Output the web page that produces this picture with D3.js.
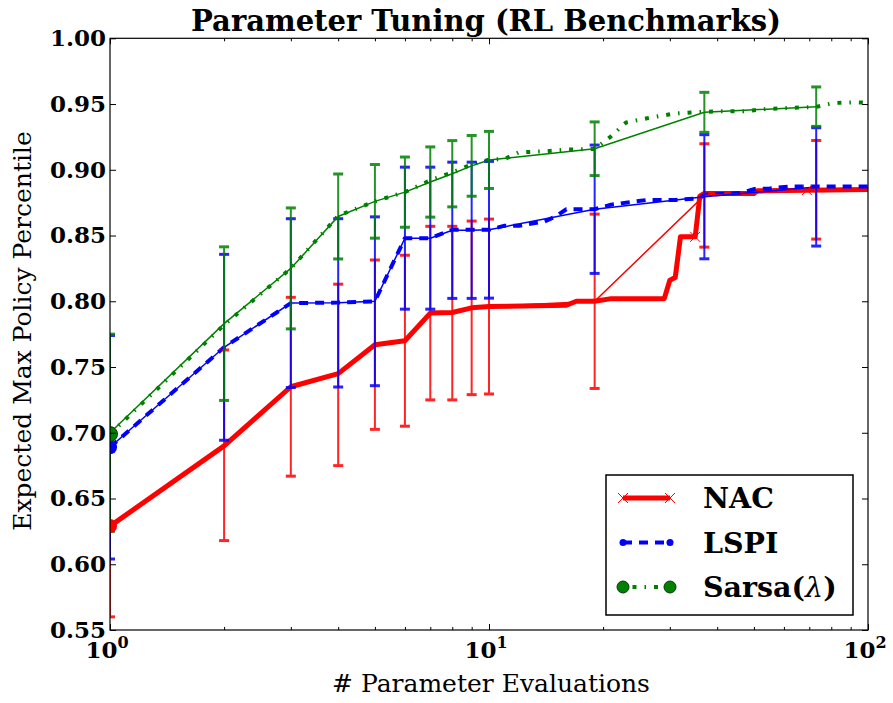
<!DOCTYPE html>
<html>
<head>
<meta charset="utf-8">
<script src="https://cdn.jsdelivr.net/npm/d3@7"></script>
<style>
  body { margin: 0; background: #fff; }
  text { font-family: "DejaVu Serif", serif; fill: #000; }
</style>
</head>
<body>
<svg id="chart" width="893" height="703"></svg>
<script>
// evaluation counts where error bars were measured
let evalX = [1, 2, 3, 4, 5, 6, 7, 8, 9, 10, 19, 37, 73]

let nacMean = [0.629, 0.6905, 0.735, 0.744, 0.767, 0.770, 0.791, 0.791, 0.795, 0.796, 0.800, 0.8805, 0.8848]
let nacErr = [0.069, 0.0725, 0.068, 0.069, 0.0644, 0.065, 0.066, 0.066, 0.066, 0.0665, 0.0663, 0.0393, 0.0375]
let lspiMean = [0.689, 0.765, 0.7986, 0.7988, 0.800, 0.848, 0.848, 0.854, 0.854, 0.8544, 0.870, 0.8795, 0.887]
let lspiErr = [0.085, 0.0707, 0.0642, 0.064, 0.0642, 0.054, 0.054, 0.0518, 0.0518, 0.052, 0.0488, 0.0472, 0.045]
let sarsaMean = [0.700, 0.783, 0.825, 0.8645, 0.876, 0.883, 0.8907, 0.897, 0.903, 0.9075, 0.916, 0.9437, 0.948]
let sarsaErr = [0.075, 0.0584, 0.046, 0.0323, 0.028, 0.0267, 0.0267, 0.0252, 0.0231, 0.0217, 0.0204, 0.0152, 0.015]

// expected max curves (read at their break points)
let nacCurveX = [1, 2, 3, 4, 5, 6, 7, 8, 9, 10, 16, 17, 19, 21, 29, 30, 31, 32, 35, 36, 37, 50, 51, 69, 100]
let nacCurveY = [0.629, 0.690, 0.735, 0.745, 0.767, 0.770, 0.791, 0.7915, 0.795, 0.796, 0.797, 0.800, 0.800, 0.802, 0.802,
  0.816, 0.818, 0.849, 0.849, 0.880, 0.882, 0.882, 0.884, 0.8845, 0.885]
let lspiCurveX = [1, 2, 3, 4, 5, 6, 7, 8, 9, 10, 11, 12, 14, 15, 16, 19, 21, 26, 31, 36, 37, 41, 46, 50, 55, 62, 75, 100]
let lspiCurveY = [0.689, 0.765, 0.7986, 0.799, 0.800, 0.848, 0.848, 0.8544, 0.8544, 0.8544, 0.8575, 0.8575, 0.8607, 0.8645,
  0.870, 0.870, 0.8735, 0.877, 0.877, 0.8784, 0.881, 0.8815, 0.8823, 0.8853, 0.8858, 0.8873, 0.8873, 0.8873]
let sarsaCurveX = [1, 2, 3, 4, 5, 6, 7, 8, 9, 10, 11, 12, 14, 16, 19, 21, 23, 27, 31, 35, 37, 41, 47, 54, 62, 73, 81, 93, 100]
let sarsaCurveY = [0.699, 0.782, 0.825, 0.865, 0.876, 0.883, 0.892, 0.898, 0.904, 0.9077, 0.9082, 0.9133, 0.914, 0.9153,
  0.9158, 0.9255, 0.936, 0.940, 0.9428, 0.9438, 0.944, 0.9445, 0.9445, 0.9463, 0.947, 0.9478, 0.9508, 0.9513, 0.951]

let nacMarkX = [35, 69]
let yTicks = [0.55, 0.60, 0.65, 0.70, 0.75, 0.80, 0.85, 0.90, 0.95, 1.00]
let xMajor = [1, 10, 100]
let xMinor = [2, 3, 4, 5, 6, 7, 8, 9, 20, 30, 40, 50, 60, 70, 80, 90]
let legendNames = ["NAC", "LSPI", "Sarsa"]

let plot = {left: 110, right: 868, top: 38.3, bottom: 630}
let colors = {nac: "#ff0000", lspi: "#0000ff", sarsa: "#008000"}

let svg = d3.select("#chart")

let x = d3.scaleLog().domain([1, 100]).range([plot.left, plot.right])
let y = d3.scaleLinear().domain([0.55, 1.0]).range([plot.bottom, plot.top])

svg.append("defs").append("clipPath").attr("id", "clip")
  .append("rect")
  .attr("x", plot.left).attr("y", plot.top)
  .attr("width", plot.right - plot.left).attr("height", plot.bottom - plot.top)

let g = svg.append("g").attr("clip-path", "url(#clip)")
let line = d3.line().x(d => x(d[0])).y(d => y(d[1]))

function draw_curve(xs, ys, color, width, dash) {
  g.append("path")
    .datum(d3.zip(xs, ys))
    .attr("d", line)
    .attr("fill", "none")
    .attr("stroke", color)
    .attr("stroke-width", width)
    .attr("stroke-dasharray", dash)
    .attr("stroke-linejoin", "round")
}

function draw_errorbars(means, errs, color) {
  let data = d3.zip(evalX, means, errs)
  g.append("path")
    .datum(data)
    .attr("d", line)
    .attr("fill", "none")
    .attr("stroke", color)
    .attr("stroke-width", 1.5)

  let bars = g.append("g").attr("opacity", 0.85)
  bars.selectAll("line.bar")
    .data(data).enter()
    .append("line")
    .attr("x1", d => x(d[0])).attr("x2", d => x(d[0]))
    .attr("y1", d => y(d[1] - d[2])).attr("y2", d => y(d[1] + d[2]))
    .attr("stroke", color).attr("stroke-width", 2)
  bars.selectAll("line.cap")
    .data(data.flatMap(d => [[d[0], d[1] - d[2]], [d[0], d[1] + d[2]]])).enter()
    .append("line")
    .attr("x1", d => x(d[0]) - 5).attr("x2", d => x(d[0]) + 5)
    .attr("y1", d => y(d[1])).attr("y2", d => y(d[1]))
    .attr("stroke", color).attr("stroke-width", 3)
}

draw_curve(nacCurveX, nacCurveY, colors.nac, 5, null)
draw_curve(lspiCurveX, lspiCurveY, colors.lspi, 4, "9,7")
draw_curve(sarsaCurveX, sarsaCurveY, colors.sarsa, 4, "4,8,1.5,8")

draw_errorbars(nacMean, nacErr, colors.nac)
draw_errorbars(lspiMean, lspiErr, colors.lspi)
draw_errorbars(sarsaMean, sarsaErr, colors.sarsa)

// x markers on the NAC curve
function cross(sel, cx, cy, r, color) {
  sel.append("path")
    .attr("d", `M${cx - r},${cy - r}L${cx + r},${cy + r}M${cx - r},${cy + r}L${cx + r},${cy - r}`)
    .attr("stroke", color).attr("stroke-width", 1).attr("fill", "none")
}
nacMarkX.forEach(v => {
  let i = nacCurveX.indexOf(v)
  cross(g, x(v), y(nacCurveY[i]), 5, colors.nac)
})

// first-point markers
g.append("circle").attr("cx", x(nacCurveX[0])).attr("cy", y(nacCurveY[0])).attr("r", 7).attr("fill", colors.nac)
g.append("circle").attr("cx", x(lspiCurveX[0])).attr("cy", y(lspiCurveY[0])).attr("r", 7).attr("fill", colors.lspi)
g.append("circle").attr("cx", x(sarsaCurveX[0])).attr("cy", y(sarsaCurveY[0])).attr("r", 7.5)
  .attr("fill", colors.sarsa).attr("stroke", "#0a3a0a").attr("stroke-width", 1)

// axes, ticks pointing inwards on all four sides
function style_axis(sel) {
  sel.select(".domain").remove()
  sel.selectAll("line").attr("stroke", "#000").attr("stroke-width", 1)
}

svg.append("g")
  .attr("transform", `translate(${plot.left},0)`)
  .call(d3.axisLeft(y).tickValues(yTicks).tickFormat(d3.format(".2f")).tickSizeInner(-6).tickSizeOuter(0).tickPadding(4))
  .call(style_axis)
  .selectAll("text")
  .attr("font-family", "DejaVu Serif").attr("font-weight", "bold").attr("font-size", 23)

svg.append("g")
  .attr("transform", `translate(${plot.right},0)`)
  .call(d3.axisRight(y).tickValues(yTicks).tickFormat("").tickSizeInner(-6).tickSizeOuter(0))
  .call(style_axis)

for (let [pos, make] of [[plot.bottom, d3.axisBottom], [plot.top, d3.axisTop]]) {
  svg.append("g")
    .attr("transform", `translate(0,${pos})`)
    .call(make(x).tickValues(xMajor).tickFormat("").tickSizeInner(-6).tickSizeOuter(0))
    .call(style_axis)
  svg.append("g")
    .attr("transform", `translate(0,${pos})`)
    .call(make(x).tickValues(xMinor).tickFormat("").tickSizeInner(-3).tickSizeOuter(0))
    .call(style_axis)
}

// x tick labels 10^n
let xl = svg.append("g").selectAll("text")
  .data(xMajor).enter()
  .append("text")
  .attr("x", d => x(d) - 3)
  .attr("y", 658)
  .attr("text-anchor", "middle")
  .attr("font-weight", "bold")
  .attr("font-size", 23)
xl.append("tspan").text("10")
xl.append("tspan").attr("dy", -10).attr("font-size", 16).text(d => Math.round(Math.log10(d)))

svg.append("rect")
  .attr("x", plot.left).attr("y", plot.top)
  .attr("width", plot.right - plot.left).attr("height", plot.bottom - plot.top)
  .attr("fill", "none").attr("stroke", "#000").attr("stroke-width", 1.2)

svg.append("text")
  .attr("x", 486).attr("y", 31)
  .attr("text-anchor", "middle")
  .attr("font-weight", "bold").attr("font-size", 29)
  .text("Parameter Tuning (RL Benchmarks)")

svg.append("text")
  .attr("x", 491).attr("y", 692)
  .attr("text-anchor", "middle")
  .attr("font-size", 25)
  .text("# Parameter Evaluations")

svg.append("text")
  .attr("transform", "translate(31,331)rotate(-90)")
  .attr("text-anchor", "middle")
  .attr("font-size", 25)
  .text("Expected Max Policy Percentile")

// legend
let legend = svg.append("g")
legend.append("rect")
  .attr("x", 606).attr("y", 475).attr("width", 247).attr("height", 140)
  .attr("fill", "#fff").attr("stroke", "#000").attr("stroke-width", 1.5)

let rowY = d3.scalePoint().domain(legendNames).range([498, 587])
let x0 = 623, x1 = 670

legend.append("line").attr("x1", x0).attr("x2", x1).attr("y1", rowY("NAC")).attr("y2", rowY("NAC"))
  .attr("stroke", colors.nac).attr("stroke-width", 5)
cross(legend, x0, rowY("NAC"), 5, colors.nac)
cross(legend, x1, rowY("NAC"), 5, colors.nac)

legend.append("line").attr("x1", x0).attr("x2", x1).attr("y1", rowY("LSPI")).attr("y2", rowY("LSPI"))
  .attr("stroke", colors.lspi).attr("stroke-width", 4).attr("stroke-dasharray", "9,7")
for (let cx of [x0, x1]) {
  legend.append("circle").attr("cx", cx).attr("cy", rowY("LSPI")).attr("r", 3.5).attr("fill", colors.lspi)
}

legend.append("line").attr("x1", x0).attr("x2", x1).attr("y1", rowY("Sarsa")).attr("y2", rowY("Sarsa"))
  .attr("stroke", colors.sarsa).attr("stroke-width", 4).attr("stroke-dasharray", "1.5,8,4,8")
for (let cx of [x0, x1]) {
  legend.append("circle").attr("cx", cx).attr("cy", rowY("Sarsa")).attr("r", 6)
    .attr("fill", colors.sarsa).attr("stroke", "#0a3a0a").attr("stroke-width", 1)
}

let lt = legend.selectAll("text")
  .data(legendNames).enter()
  .append("text")
  .attr("x", 703)
  .attr("y", d => rowY(d))
  .attr("dy", "0.36em")
  .attr("font-weight", "bold")
  .attr("font-size", 28.5)
lt.append("tspan").text(d => d)
lt.filter(d => d == "Sarsa").each(function () {
  let t = d3.select(this)
  t.append("tspan").text("(")
  t.append("tspan").attr("font-style", "italic").attr("font-weight", "normal").text("λ")
  t.append("tspan").text(")")
})
</script>
</body>
</html>
